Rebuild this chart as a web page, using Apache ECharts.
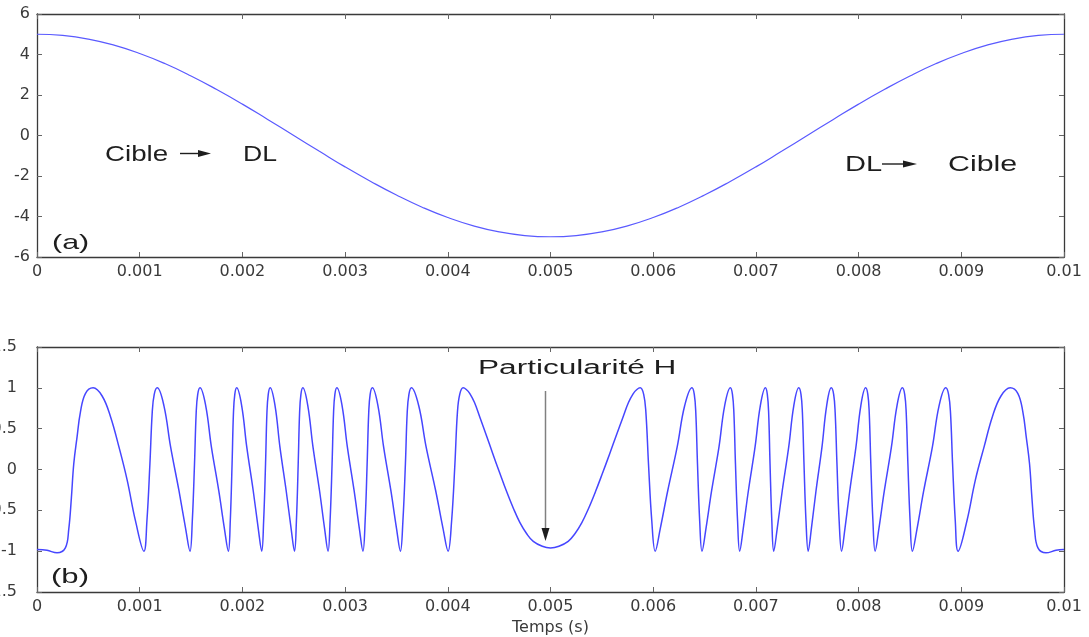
<!DOCTYPE html>
<html>
<head>
<meta charset="utf-8">
<script src="https://cdn.jsdelivr.net/npm/echarts@6/dist/echarts.min.js"></script>
<style>
html,body{margin:0;padding:0;background:#fff;}
#chart{width:1089px;height:637px;}
</style>
</head>
<body>
<div id="chart"></div>
<script>
// ---------- data ----------
const xTickLabels = ['0','0.001','0.002','0.003','0.004','0.005','0.006','0.007','0.008','0.009','0.01'];
const xAxisTitle = 'Temps (s)';

// panel (a): displacement, time in ms
const timeA = [0,0.25,0.5,0.75,1,1.25,1.5,1.75,2,2.25,2.5,2.75,3,3.25,3.5,3.75,4,4.25,4.5,4.75,
               5,5.25,5.5,5.75,6,6.25,6.5,6.75,7,7.25,7.5,7.75,8,8.25,8.5,8.75,9,9.25,9.5,9.75,10];
const valueA = [5.0,4.94,4.76,4.46,4.05,3.54,2.94,2.27,1.55,0.78,0,-0.78,-1.55,-2.27,-2.94,-3.54,-4.05,-4.46,-4.76,-4.94,
                -5.0,-4.94,-4.76,-4.46,-4.05,-3.54,-2.94,-2.27,-1.55,-0.78,0,0.78,1.55,2.27,2.94,3.54,4.05,4.46,4.76,4.94,5.0];

// panel (b): signal, time in ms
const timeB = [
  0,0.0976,0.1951,0.2761,0.3093,0.3346,0.3580,0.3902,0.4224,0.4712,0.5463,0.6341,0.7151,0.7971,0.8780,0.9590,1.0410,
  1.0702,1.0995,1.1220,1.1415,1.1707,1.2361,1.3005,1.3824,1.4468,1.4898,
  1.5122,1.5337,1.5502,1.5649,1.5873,1.6429,1.6976,1.7698,1.8244,1.8634,
  1.8820,1.8995,1.9132,1.9259,1.9444,1.9932,2.0420,2.1054,2.1541,2.1883,
  2.2068,2.2254,2.2390,2.2517,2.2702,2.3180,2.3649,2.4263,2.4741,2.5073,
  2.5259,2.5434,2.5571,2.5698,2.5883,2.6371,2.6868,2.7512,2.8000,2.8341,
  2.8537,2.8732,2.8878,2.9005,2.9200,2.9707,3.0215,3.0878,3.1385,3.1737,
  3.1951,3.2146,3.2302,3.2439,3.2654,3.3200,3.3746,3.4459,3.5005,3.5385,
  3.5629,3.5873,3.6049,3.6215,3.6459,3.7171,3.7883,3.8820,3.9532,4.0029,
  4.0371,4.0693,4.0937,4.1161,4.1493,
  4.1800,4.2146,4.2600,4.3122,4.3750,4.4390,4.5050,4.5727,4.6400,4.7024,4.7700,4.8322,4.9200,5.0000,
  5.0820,5.1722,5.2360,5.3053,5.3694,5.4384,5.5079,5.5756,5.6413,5.7057,5.7592,5.8058,5.8413,5.8732,
  5.9073,5.9288,5.9541,5.9863,6.0195,6.0693,6.1415,6.2341,6.3063,6.3776,
  6.4000,6.4146,6.4312,6.4527,6.4751,6.5141,6.5688,6.6410,6.6956,6.7512,
  6.7717,6.7854,6.8010,6.8215,6.8420,6.8771,6.9268,6.9922,7.0429,7.0927,
  7.1112,7.1239,7.1376,7.1551,7.1737,7.2078,7.2566,7.3200,7.3688,7.4176,
  7.4390,7.4527,7.4683,7.4878,7.5093,7.5405,7.5854,7.6439,7.6888,7.7337,
  7.7571,7.7717,7.7893,7.8107,7.8341,7.8673,7.9141,7.9746,8.0215,8.0683,
  8.0898,8.1034,8.1190,8.1395,8.1610,8.1980,8.2507,8.3200,8.3737,8.4263,
  8.4488,8.4634,8.4800,8.5015,8.5239,8.5698,8.6341,8.7190,8.7834,8.8488,
  8.8761,8.8946,8.9151,8.9415,8.9688,9.0546,9.1366,9.2224,9.3034,9.3863,9.4761,
  9.5512,9.6000,9.6322,9.6644,9.6878,9.7132,9.7463,9.8244,9.9220,10.0000
];
const valueB = [
  -0.98,-0.99,-1.02,-0.96,-0.73,-0.35,0.07,0.40,0.70,0.93,1.0,0.90,0.65,0.28,-0.13,-0.63,-1.0,
  -0.63,0.07,0.70,0.92,1.0,0.78,0.28,-0.26,-0.72,-1.0,
  -0.63,0.07,0.70,0.92,1.0,0.78,0.28,-0.26,-0.72,-1.0,
  -0.63,0.07,0.70,0.92,1.0,0.78,0.28,-0.26,-0.72,-1.0,
  -0.63,0.07,0.70,0.92,1.0,0.78,0.28,-0.26,-0.72,-1.0,
  -0.63,0.07,0.70,0.92,1.0,0.78,0.28,-0.26,-0.72,-1.0,
  -0.63,0.07,0.70,0.92,1.0,0.78,0.28,-0.26,-0.72,-1.0,
  -0.63,0.07,0.70,0.92,1.0,0.78,0.28,-0.26,-0.72,-1.0,
  -0.63,0.07,0.70,0.92,1.0,0.78,0.28,-0.26,-0.72,-1.0,
  -0.63,0.07,0.70,0.92,1.0,
  0.98,0.93,0.82,0.64,0.42,0.19,-0.04,-0.27,-0.48,-0.65,-0.79,-0.88,-0.94,-0.96,
  -0.94,-0.88,-0.79,-0.65,-0.48,-0.27,-0.04,0.19,0.42,0.64,0.82,0.93,0.98,1.0,
  0.92,0.70,0.07,-0.63,-1.0,-0.72,-0.26,0.28,0.78,1.0,
  0.92,0.70,0.07,-0.63,-1.0,-0.72,-0.26,0.28,0.78,1.0,
  0.92,0.70,0.07,-0.63,-1.0,-0.72,-0.26,0.28,0.78,1.0,
  0.92,0.70,0.07,-0.63,-1.0,-0.72,-0.26,0.28,0.78,1.0,
  0.92,0.70,0.07,-0.63,-1.0,-0.72,-0.26,0.28,0.78,1.0,
  0.92,0.70,0.07,-0.63,-1.0,-0.72,-0.26,0.28,0.78,1.0,
  0.92,0.70,0.07,-0.63,-1.0,-0.72,-0.26,0.28,0.78,1.0,
  0.92,0.70,0.07,-0.63,-1.0,-0.72,-0.26,0.28,0.78,1.0,
  0.92,0.70,0.07,-0.63,-1.0,-0.63,-0.13,0.28,0.65,0.90,1.0,
  0.93,0.70,0.40,0.07,-0.35,-0.73,-0.96,-1.02,-0.99,-0.98
];

// annotation texts
const annTexts = {
  a: '(a)', b: '(b)',
  cibleL: 'Cible', dlL: 'DL', dlR: 'DL', cibleR: 'Cible',
  partH: 'Particularité H'
};

// ---------- build ----------
const toPairs = (ts, vs) => ts.map((t, i) => [t / 1000, vs[i]]);
const seriesA = toPairs(timeA, valueA);
const seriesB = toPairs(timeB, valueB);

const FONT = '"DejaVu Sans", "Liberation Sans", Arial, sans-serif';
const AFONT = '"Liberation Sans", Arial, Helvetica, sans-serif';
const axisCol = '#3a3a3a';
const tickCol = '#666';
const lblCol = '#3a3a3a';

function xAx(grid, pos, withLabels, extra) {
  return Object.assign({
    type: 'value', gridIndex: grid, position: pos,
    min: 0, max: 0.01, interval: 0.001,
    axisLine: { show: true, onZero: false, lineStyle: { color: axisCol, width: 1.3 } },
    axisTick: { show: true, inside: true, length: 5, lineStyle: { color: tickCol, width: 1 } },
    splitLine: { show: false },
    axisLabel: {
      show: withLabels, margin: 7, color: lblCol, fontFamily: FONT, fontSize: 16,
      formatter: v => xTickLabels[Math.round(v / 0.001)]
    }
  }, extra || {});
}
function yAx(grid, pos, min, max, interval, withLabels, margin) {
  return {
    type: 'value', gridIndex: grid, position: pos,
    min: min, max: max, interval: interval,
    axisLine: { show: true, onZero: false, lineStyle: { color: axisCol, width: 1.3 } },
    axisTick: { show: true, inside: true, length: 5, lineStyle: { color: tickCol, width: 1 } },
    splitLine: { show: false },
    axisLabel: { show: withLabels, margin: margin, color: lblCol, fontFamily: FONT, fontSize: 16 }
  };
}

const chart = echarts.init(document.getElementById('chart'), null, { renderer: 'canvas' });

function txt(text, x, y, size, sx, color) {
  return {
    type: 'text', x: x, y: y, scaleX: sx, z: 100,
    style: { text: text, fontFamily: AFONT, fontSize: size, fill: color || '#1e1e1e',
             align: 'left', verticalAlign: 'middle' }
  };
}

chart.setOption({
  animation: false,
  backgroundColor: '#ffffff',
  grid: [
    { left: 37, top: 14, width: 1027, height: 243, containLabel: false, outerBoundsMode: 'none' },
    { left: 37, top: 347, width: 1027, height: 245, containLabel: false, outerBoundsMode: 'none' }
  ],
  xAxis: [
    xAx(0, 'bottom', true),
    xAx(0, 'top', false),
    xAx(1, 'bottom', true, {
      name: xAxisTitle, nameLocation: 'middle', nameGap: 28,
      nameTextStyle: { fontFamily: FONT, fontSize: 16, color: lblCol }
    }),
    xAx(1, 'top', false)
  ],
  yAxis: [
    yAx(0, 'left', -6, 6, 2, true, 7),
    yAx(0, 'right', -6, 6, 2, false, 7),
    yAx(1, 'left', -1.5, 1.5, 0.5, true, 20),
    yAx(1, 'right', -1.5, 1.5, 0.5, false, 20)
  ],
  series: [
    {
      type: 'line', xAxisIndex: 0, yAxisIndex: 0, data: seriesA,
      showSymbol: false, smooth: true, clip: true,
      lineStyle: { color: '#5a5aff', width: 1.2 }
    },
    {
      type: 'line', xAxisIndex: 2, yAxisIndex: 2, data: seriesB,
      showSymbol: false, smooth: 0.4, clip: true,
      lineStyle: { color: '#4646ff', width: 1.5 }
    }
  ],
  graphic: [
    txt(annTexts.a, 52, 243, 21, 1.45),
    txt(annTexts.b, 51, 577, 21, 1.48),
    txt(annTexts.cibleL, 105, 155, 22, 1.26),
    { type: 'line', z: 100, shape: { x1: 180, y1: 153.5, x2: 200, y2: 153.5 }, style: { stroke: '#1e1e1e', lineWidth: 1.4 } },
    { type: 'polygon', z: 100, shape: { points: [[211, 153.5], [198, 150], [198, 157]] }, style: { fill: '#1e1e1e' } },
    txt(annTexts.dlL, 243, 155, 22, 1.21),
    txt(annTexts.dlR, 845, 164.5, 22, 1.32),
    { type: 'line', z: 100, shape: { x1: 882, y1: 164, x2: 905, y2: 164 }, style: { stroke: '#1e1e1e', lineWidth: 1.4 } },
    { type: 'polygon', z: 100, shape: { points: [[917, 164], [903, 160.5], [903, 167.5]] }, style: { fill: '#1e1e1e' } },
    txt(annTexts.cibleR, 948, 164.5, 22, 1.38),
    txt(annTexts.partH, 478, 368, 20, 1.58),
    { type: 'line', z: 100, shape: { x1: 545.5, y1: 391, x2: 545.5, y2: 532 }, style: { stroke: '#808080', lineWidth: 1.5 } },
    { type: 'polygon', z: 100, shape: { points: [[545.5, 541], [541.5, 528], [549.5, 528]] }, style: { fill: '#1e1e1e' } }
  ]
});
</script>
</body>
</html>
